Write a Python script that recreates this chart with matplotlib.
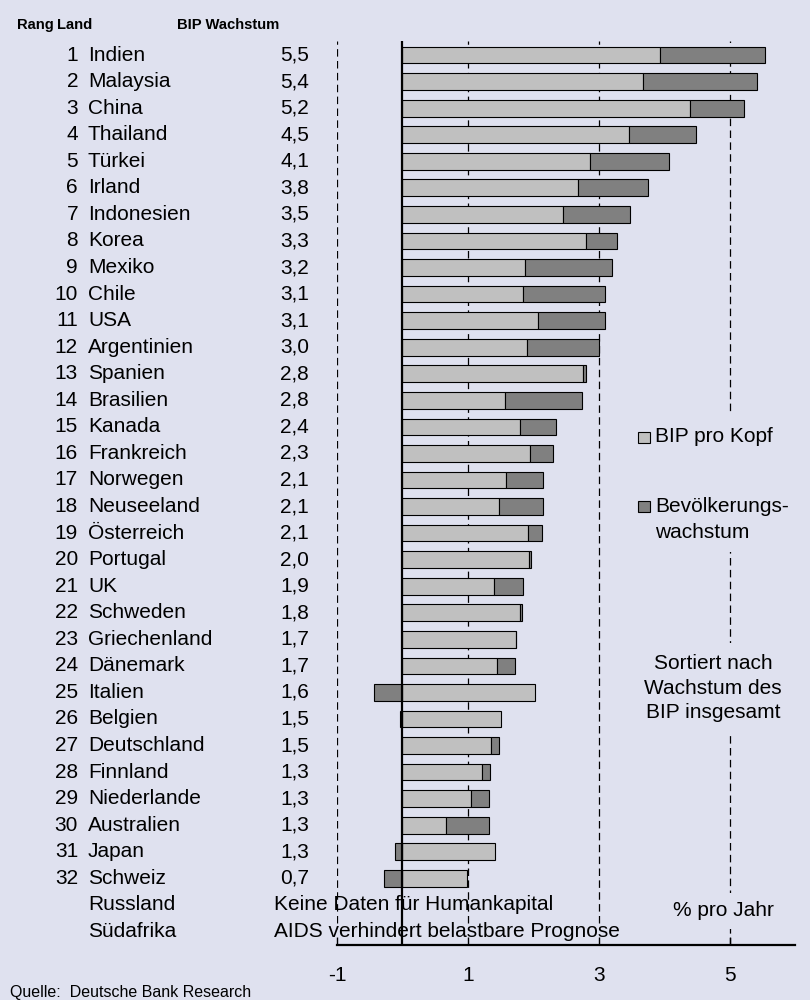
import numpy as np
import matplotlib.pyplot as plt
from matplotlib.patches import Rectangle
from matplotlib.transforms import blended_transform_factory

countries = ["Indien", "Malaysia", "China", "Thailand", "Türkei", "Irland",
             "Indonesien", "Korea", "Mexiko", "Chile", "USA", "Argentinien",
             "Spanien", "Brasilien", "Kanada", "Frankreich", "Norwegen",
             "Neuseeland", "Österreich", "Portugal", "UK", "Schweden",
             "Griechenland", "Dänemark", "Italien", "Belgien", "Deutschland",
             "Finnland", "Niederlande", "Australien", "Japan", "Schweiz"]
bip_labels = ["5,5", "5,4", "5,2", "4,5", "4,1", "3,8", "3,5", "3,3", "3,2",
              "3,1", "3,1", "3,0", "2,8", "2,8", "2,4", "2,3", "2,1", "2,1",
              "2,1", "2,0", "1,9", "1,8", "1,7", "1,7", "1,6", "1,5", "1,5",
              "1,3", "1,3", "1,3", "1,3", "0,7"]
pro_kopf = [3.93, 3.68, 4.39, 3.47, 2.87, 2.69, 2.46, 2.81, 1.88, 1.85, 2.07,
            1.90, 2.76, 1.57, 1.80, 1.95, 1.59, 1.48, 1.92, 1.94, 1.40, 1.80,
            1.74, 1.45, 2.03, 1.51, 1.35, 1.22, 1.05, 0.67, 1.41, 0.98]
bevoelkerung = [1.61, 1.74, 0.83, 1.01, 1.20, 1.06, 1.02, 0.47, 1.32, 1.25,
                1.02, 1.10, 0.05, 1.18, 0.54, 0.35, 0.56, 0.67, 0.21, 0.02,
                0.45, 0.02, 0.00, 0.27, -0.44, -0.04, 0.12, 0.12, 0.27, 0.65,
                -0.11, -0.28]
extra_countries = ["Russland", "Südafrika"]
extra_notes = ["Keine Daten für Humankapital",
               "AIDS verhindert belastbare Prognose"]
xticks = [-1, 1, 3, 5]

bg = "#dfe1ef"
light = "#c0c0c0"
dark = "#808080"

plt.rcParams['font.family'] = ['Liberation Sans', 'DejaVu Sans']
W, H = 810, 1000
fig = plt.figure(figsize=(W / 100, H / 100), dpi=100, facecolor=bg)


def fx(px):
    return px / W


def fy(py):
    return 1 - py / H


ax = fig.add_axes([fx(337), fy(945), fx(795) - fx(337), fy(41) - fy(945)])
ax.set_facecolor(bg)

pk = np.array(pro_kopf)
bv = np.array(bevoelkerung)
ypos = np.arange(len(countries))

# BIP pro Kopf ab 0, Bevölkerung daran angehängt (negativ: links von 0)
ax.barh(ypos, pk, height=0.63, color=light, edgecolor="black", linewidth=0.8, zorder=2)
left_bv = np.where(bv >= 0, pk, 0)
ax.barh(ypos, bv, left=left_bv, height=0.63, color=dark, edgecolor="black",
        linewidth=0.8, zorder=2)

for x in xticks:
    ymin = 0 if x == 5 else 0.024
    ax.axvline(x, ymin=ymin, color="black", lw=0.9, linestyle=(0, (6, 3.5)), zorder=0)
ax.axvline(0, color="black", lw=1.6, zorder=3)

ax.set_xlim(-1, 6)
ax.set_ylim(33.51, -0.53)
ax.set_yticks([])
ax.set_xticks(xticks)
ax.set_xticklabels([str(t) for t in xticks], fontsize=15)
ax.tick_params(axis="x", direction="in", length=6, width=1, pad=15)
for s in ["top", "right", "left"]:
    ax.spines[s].set_visible(False)
ax.spines["bottom"].set_linewidth(1.6)

tr = blended_transform_factory(fig.transFigure, ax.transData)
fs = 15
for i, name in enumerate(countries):
    fig.text(fx(78), i, str(i + 1), transform=tr, ha="right", va="center", fontsize=fs)
    fig.text(fx(88), i, name, transform=tr, ha="left", va="center", fontsize=fs)
    fig.text(fx(309), i, bip_labels[i], transform=tr, ha="right", va="center", fontsize=fs)
for j, name in enumerate(extra_countries):
    yy = len(countries) + j
    fig.text(fx(88), yy, name, transform=tr, ha="left", va="center", fontsize=fs)
    fig.text(fx(274), yy, extra_notes[j], transform=tr, ha="left", va="center",
             fontsize=fs, zorder=5)

hdr = dict(fontsize=10.6, fontweight="bold", va="center")
fig.text(fx(17), fy(25), "Rang", **hdr)
fig.text(fx(57), fy(25), "Land", **hdr)
fig.text(fx(177), fy(25), "BIP Wachstum", **hdr)

# Legende
fig.add_artist(Rectangle((fx(630), fy(552)), fx(800) - fx(630), fy(413) - fy(552),
                         transform=fig.transFigure, facecolor=bg, edgecolor="none"))
fig.add_artist(Rectangle((fx(638), fy(443)), fx(12), fy(0) - fy(11),
                         transform=fig.transFigure, facecolor=light, edgecolor="black", lw=0.8))
fig.add_artist(Rectangle((fx(638), fy(512)), fx(12), fy(0) - fy(11),
                         transform=fig.transFigure, facecolor=dark, edgecolor="black", lw=0.8))
fig.text(fx(655), fy(437), "BIP pro Kopf", fontsize=fs, va="center")
fig.text(fx(655), fy(506), "Bevölkerungs-", fontsize=fs, va="center")
fig.text(fx(655), fy(532), "wachstum", fontsize=fs, va="center")

fig.text(fx(713), fy(688), "Sortiert nach\nWachstum des\nBIP insgesamt", fontsize=fs,
         ha="center", va="center", linespacing=1.38,
         bbox=dict(facecolor=bg, edgecolor="none", pad=8))
fig.text(fx(723), fy(911), "% pro Jahr", fontsize=fs, ha="center", va="center",
         bbox=dict(facecolor=bg, edgecolor="none", pad=6))

fig.text(fx(10), fy(992), "Quelle:  Deutsche Bank Research", fontsize=11.5, va="center")

fig.savefig("out.png", dpi=100, facecolor=bg)
